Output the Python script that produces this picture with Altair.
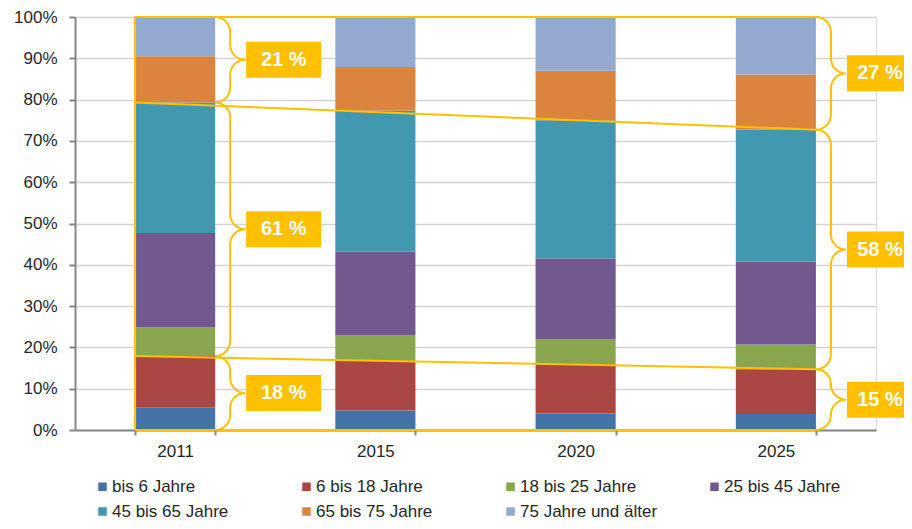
import altair as alt
import pandas as pd
import numpy as np

years = ["2011", "2015", "2020", "2025"]
groups = ["bis 6 Jahre", "6 bis 18 Jahre", "18 bis 25 Jahre", "25 bis 45 Jahre",
          "45 bis 65 Jahre", "65 bis 75 Jahre", "75 Jahre und älter"]
colors = ["#4572A7", "#AA4643", "#89A54E", "#71588F", "#4198AF", "#DB843D", "#93A9CF"]

share_2011 = [5.5, 12.4, 6.9, 22.9, 31.6, 11.2, 9.5]
share_2015 = [4.7, 12.0, 6.2, 20.3, 34.1, 10.6, 12.1]
share_2020 = [4.0, 11.9, 6.0, 19.6, 33.5, 12.0, 13.0]
share_2025 = [3.9, 10.8, 6.0, 20.1, 31.9, 13.4, 13.9]

# bracket groups (index ranges into groups): young, working age, old
bracket_groups = [(0, 2), (2, 5), (5, 7)]

YELLOW = "#FFC000"
FONT = "Liberation Sans"
TXT = "#262626"

W, H = 801, 413
shares = {"2011": share_2011, "2015": share_2015, "2020": share_2020, "2025": share_2025}

rows = []
for y in years:
    for i, g in enumerate(groups):
        rows.append({"year": y, "group": g, "idx": i, "value": shares[y][i] / 100.0})
bars_df = pd.DataFrame(rows)

# overlay geometry in a quantitative x space: bar i centred at i, half-width 0.2
px_x = W / 4.0          # pixels per x unit
px_y = H / 1.0          # pixels per y unit (fraction)
half = 0.2
left_edge = 0 - half
right_edge = len(years) - 1 + half


def cum(vals, k):
    return sum(vals[:k]) / 100.0


first, last = shares[years[0]], shares[years[-1]]

seg_rows = [
    {"x": left_edge, "y": 0.0, "x2": right_edge, "y2": 0.0},
    {"x": left_edge, "y": 1.0, "x2": right_edge, "y2": 1.0},
    {"x": left_edge, "y": 0.0, "x2": left_edge, "y2": 1.0},
    {"x": left_edge, "y": cum(first, 2), "x2": right_edge, "y2": cum(last, 2)},
    {"x": left_edge, "y": cum(first, 5), "x2": right_edge, "y2": cum(last, 5)},
]
seg_df = pd.DataFrame(seg_rows)

R = 15.0  # brace curve radius in px
rx, ry = R / px_x, R / px_y


def brace(e, y0, y1, bid):
    pts = []
    ym = (y0 + y1) / 2
    n = 10
    t = np.linspace(np.pi / 2, 0, n)
    pts += list(zip(e + rx * np.cos(t), y1 - ry + ry * np.sin(t)))
    t = np.linspace(np.pi, 1.5 * np.pi, n)
    pts += list(zip(e + 2 * rx + rx * np.cos(t), ym + ry + ry * np.sin(t)))
    t = np.linspace(0.5 * np.pi, np.pi, n)
    pts += list(zip(e + 2 * rx + rx * np.cos(t), ym - ry + ry * np.sin(t)))
    t = np.linspace(0, -0.5 * np.pi, n)
    pts += list(zip(e + rx * np.cos(t), y0 + ry + ry * np.sin(t)))
    return [{"bid": bid, "o": k, "x": float(px), "y": float(py)} for k, (px, py) in enumerate(pts)]


brace_rows, box_rows = [], []
for side, (e, vals) in enumerate([(left_edge + 2 * half, first), (right_edge, last)]):
    for j, (a, b) in enumerate(bracket_groups):
        y0, y1 = cum(vals, a), cum(vals, b)
        bid = f"{side}-{j}"
        brace_rows += brace(e, y0, y1, bid)
        ym = (y0 + y1) / 2
        pct = round(sum(vals[a:b]))
        box_rows.append({
            "x": e + 31 / px_x, "x2": e + 106 / px_x,
            "y": ym - 18 / px_y, "y2": ym + 18 / px_y,
            "xc": e + (68.5 if side == 0 else 64) / px_x, "yc": ym, "label": f"{pct} %",
        })
brace_df = pd.DataFrame(brace_rows)
box_df = pd.DataFrame(box_rows)

bars = alt.Chart(bars_df).mark_bar().encode(
    x=alt.X("year:N", sort=years, title=None,
            scale=alt.Scale(paddingInner=0.6, paddingOuter=0.3),
            axis=alt.Axis(labelAngle=0, tickBand="extent", tickSize=5, labelPadding=8,
                          labelFontSize=17, labelFont=FONT, labelColor=TXT,
                          domainColor="#868686", domainWidth=2, tickColor="#868686",
                          tickWidth=2, grid=False)),
    y=alt.Y("value:Q", stack="zero", title=None,
            scale=alt.Scale(domain=[0, 1], nice=False),
            axis=alt.Axis(format=".0%", values=[i / 10 for i in range(11)],
                          tickSize=6, labelPadding=12, labelFontSize=17, labelFont=FONT,
                          labelColor=TXT, domainColor="#868686", domainWidth=2,
                          tickColor="#868686", tickWidth=2, gridColor="#d4d4d4",
                          gridWidth=1.5)),
    color=alt.Color("group:N", scale=alt.Scale(domain=groups, range=colors),
                    legend=alt.Legend(title=None, orient="none", legendX=19, legendY=461,
                                      direction="horizontal", columns=4, gridAlign="all",
                                      symbolType="square", symbolSize=72, symbolStrokeWidth=0,
                                      labelFontSize=17, labelFont=FONT, labelColor=TXT,
                                      labelOffset=1, columnPadding=48, rowPadding=7,
                                      padding=0)),
    order=alt.Order("idx:Q", sort="ascending"),
)

xq = alt.X("x:Q", scale=alt.Scale(domain=[-0.5, 3.5], nice=False, zero=False), axis=None)

segs = alt.Chart(seg_df).mark_rule(color=YELLOW, strokeWidth=2).encode(
    x=xq, x2="x2:Q", y="y:Q", y2="y2:Q")

braces = alt.Chart(brace_df).mark_line(color=YELLOW, strokeWidth=2).encode(
    x=xq, y="y:Q", detail="bid:N", order="o:Q")

boxes = alt.Chart(box_df).mark_rect(color=YELLOW).encode(
    x=xq, x2="x2:Q", y="y:Q", y2="y2:Q")

texts = alt.Chart(box_df).mark_text(color="white", font=FONT, fontWeight="bold",
                                     fontSize=20, align="center", baseline="middle").encode(
    x=alt.X("xc:Q", scale=alt.Scale(domain=[-0.5, 3.5], nice=False, zero=False), axis=None),
    y="yc:Q", text="label:N")

overlay = alt.layer(segs, braces, boxes, texts)

chart = alt.layer(bars, overlay).resolve_scale(x="independent").properties(
    width=W, height=H,
    autosize=alt.AutoSizeParams(type="none"),
    padding={"left": 67, "top": 9, "right": 28, "bottom": 91},
).configure_view(stroke=None).configure(background="white")

chart.save("out.html", embed_options={"renderer": "svg", "actions": False})
